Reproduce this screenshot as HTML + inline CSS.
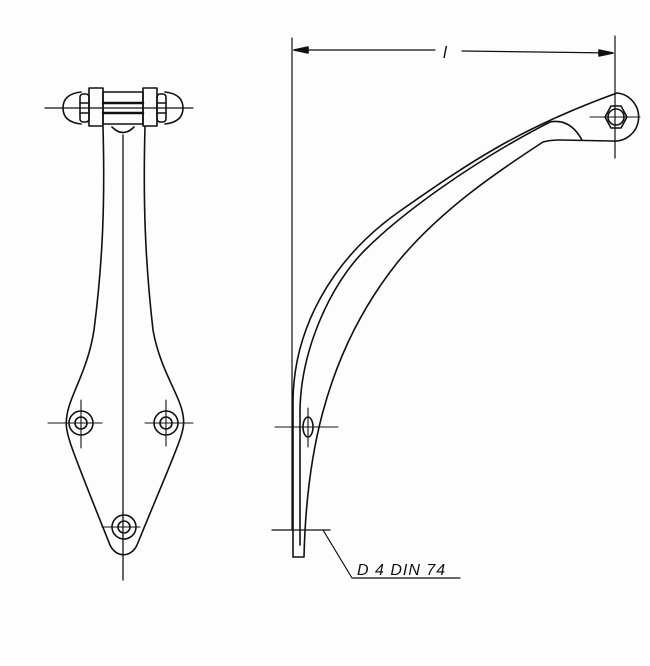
<!DOCTYPE html>
<html><head><style>
html,body{margin:0;padding:0;background:#fff;}
svg{display:block;}
text{font-family:"Liberation Sans",sans-serif;font-style:italic;fill:#111;}
</style></head><body>
<svg width="650" height="666" viewBox="0 0 650 666" xmlns="http://www.w3.org/2000/svg">
<rect width="650" height="666" fill="#fdfdfd"/>
<g fill="none" stroke="#111" stroke-width="1.6" stroke-linejoin="round" stroke-linecap="round">
<line x1="45" y1="108" x2="193" y2="108" stroke-width="1.2"/>
<path d="M81,92 Q63,94 63,108 Q63,122 81,124"/>
<path d="M165,92 Q183,94 183,108 Q183,122 165,124"/>
<rect x="80" y="94" width="9" height="28" rx="3"/>
<rect x="157" y="94" width="9" height="28" rx="3"/>
<line x1="80" y1="103" x2="89" y2="103"/><line x1="80" y1="113" x2="89" y2="113"/>
<line x1="157" y1="103" x2="166" y2="103"/><line x1="157" y1="113" x2="166" y2="113"/>
<rect x="89" y="88" width="14" height="38"/>
<rect x="143" y="88" width="14" height="38"/>
<rect x="103" y="92" width="40" height="32"/>
<line x1="103" y1="103" x2="143" y2="103" stroke-width="2.5"/>
<line x1="103" y1="113" x2="143" y2="113" stroke-width="2.5"/>
<path d="M103,127 C105,200 103,260 94,330 C88,370 70,395 67,415 C64,432 68,440 110,545 C116,558 131,558 137,545 C180,440 186,432 183,415 C180,395 160,370 153,330 C145,260 143,200 145,127"/>
<path d="M112,127 Q123,138 134,127"/>
<line x1="123" y1="135" x2="123" y2="580" stroke-width="1.3"/>
<circle cx="81" cy="423" r="12"/><circle cx="81" cy="423" r="6"/>
<circle cx="166" cy="423" r="12"/><circle cx="166" cy="423" r="6"/>
<circle cx="124" cy="527" r="12"/><circle cx="124" cy="527" r="6"/>
<g stroke-width="1.1">
<line x1="48" y1="423" x2="102" y2="423"/><line x1="81" y1="400" x2="81" y2="448"/>
<line x1="145" y1="423" x2="193" y2="423"/><line x1="166" y1="400" x2="166" y2="446"/>
<line x1="102" y1="527" x2="140" y2="527"/>
</g>
<line x1="292" y1="38" x2="292" y2="530" stroke-width="1.2"/>
<line x1="615" y1="36" x2="615" y2="158" stroke-width="1.2"/>
<line x1="294" y1="50" x2="435" y2="50" stroke-width="1.2"/>
<line x1="462" y1="51" x2="613" y2="53" stroke-width="1.2"/>
<path d="M294,50 L308,47 L308,53 Z" fill="#111"/>
<path d="M613,53 L599,50 L599,56 Z" fill="#111"/>
<path d="M293,557 L293,400 C294,330 330,260 400,211 S520,128 617,93 A24,24 0 0 1 612,141 L560,140 Q550,140 543,142 C500,170 440,210 397,263 C320,360 306,470 304,557 Z"/>
<path d="M300,545 L300,410 C301,350 330,285 365,250 C400,215 470,163 550,122 Q570,118 582,140"/>
<polygon points="611,106 621,106 627,117 621,128 611,128 605,117"/>
<circle cx="616" cy="117" r="8"/>
<line x1="590" y1="117" x2="640" y2="117" stroke-width="1.1"/>
<ellipse cx="308" cy="427" rx="5" ry="10"/>
<line x1="275" y1="427" x2="338" y2="427" stroke-width="1.1"/>
<line x1="308" y1="408" x2="308" y2="447" stroke-width="1.1"/>
<line x1="272" y1="530" x2="330" y2="530" stroke-width="1.3"/>
<path d="M323,530 L352,578 L460,578" stroke-width="1.2"/>
</g>
<text x="443" y="58" font-size="17">l</text>
<text x="357" y="575" font-size="16" letter-spacing="1">D 4 DIN 74</text>
</svg>
</body></html>
